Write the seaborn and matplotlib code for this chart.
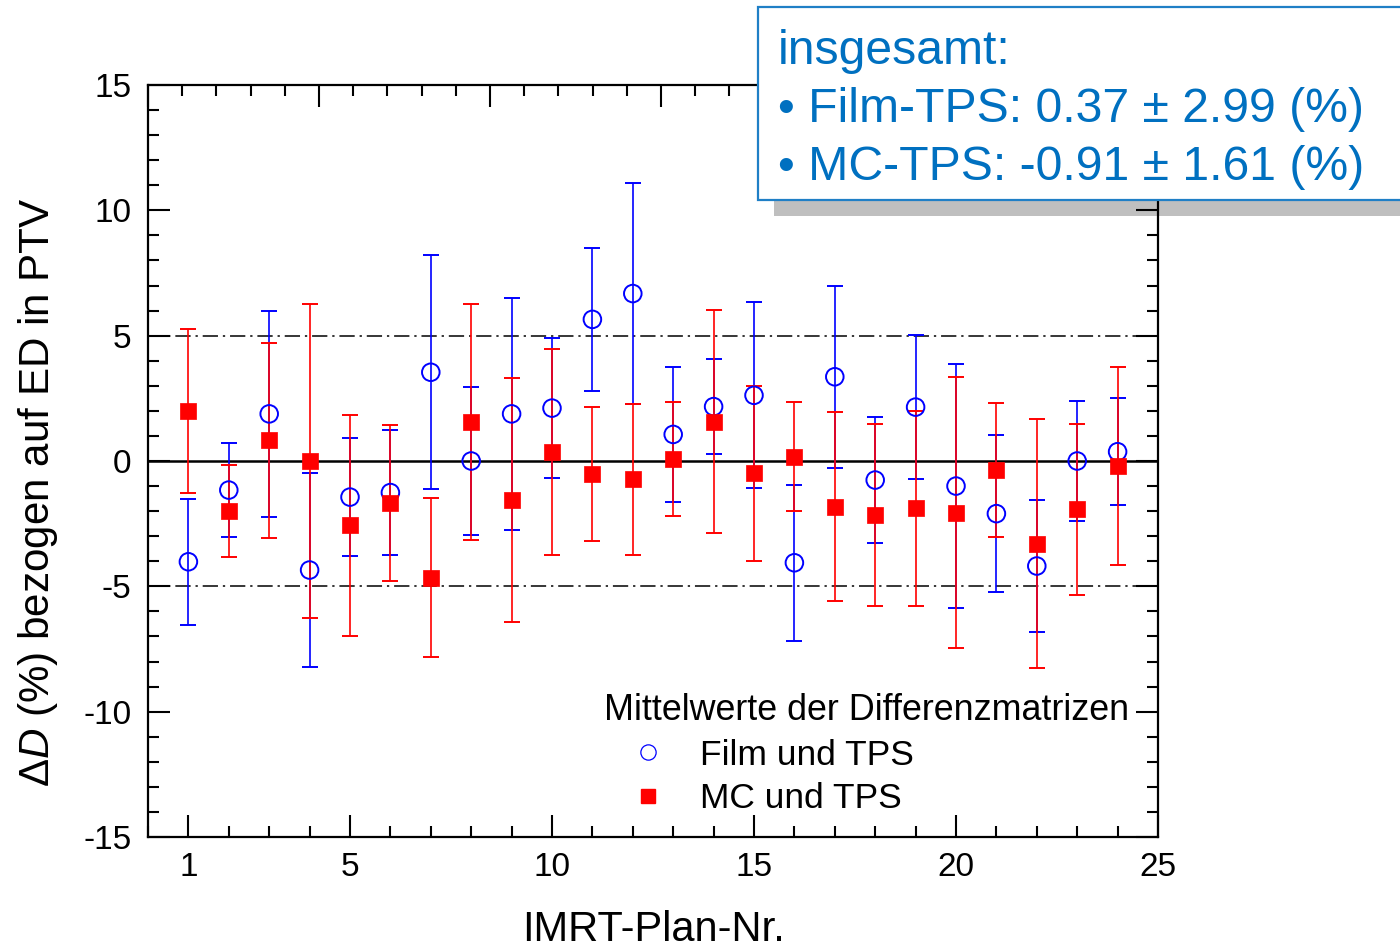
import numpy as np
import pandas as pd
import matplotlib
matplotlib.use("Agg")
import matplotlib.pyplot as plt
import seaborn as sns
from matplotlib.ticker import MultipleLocator, FixedLocator, NullFormatter
from matplotlib.patches import Rectangle
from matplotlib.lines import Line2D

# ---------------- data ----------------
plans = list(range(1, 25))
film_mean = [-4.02, -1.16, 1.88, -4.35, -1.44, -1.26, 3.54, 0.00, 1.88, 2.11, 5.65, 6.68,
             1.06, 2.17, 2.62, -4.06, 3.36, -0.76, 2.15, -1.00, -2.10, -4.19, 0.00, 0.37]
film_err = [2.51, 1.86, 4.10, 3.86, 2.36, 2.50, 4.66, 2.94, 4.63, 2.78, 2.86, 4.41,
            2.70, 1.89, 3.71, 3.12, 3.63, 2.52, 2.88, 4.88, 3.13, 2.65, 2.38, 2.13]
mc_mean = [2.00, -1.99, 0.82, 0.00, -2.57, -1.66, -4.65, 1.56, -1.56, 0.36, -0.51, -0.73,
           0.08, 1.57, -0.49, 0.17, -1.82, -2.15, -1.89, -2.06, -0.35, -3.30, -1.93, -0.20]
mc_err = [3.27, 1.84, 3.89, 6.27, 4.40, 3.11, 3.16, 4.72, 4.87, 4.10, 2.67, 3.01,
          2.29, 4.45, 3.49, 2.17, 3.77, 3.63, 3.88, 5.40, 2.68, 4.96, 3.42, 3.96]

x_major_ticks = [1, 5, 10, 15, 20, 25]
y_major_ticks = [-15, -10, -5, 0, 5, 10, 15]
tolerance = 5

legend_title = "Mittelwerte der Differenzmatrizen"
film_label = "Film und TPS"
mc_label = "MC und TPS"
xlabel = "IMRT-Plan-Nr."
ylabel = "Δ$\\it{D}$ (%) bezogen auf ED in PTV"
box_lines = ["insgesamt:", "• Film-TPS: 0.37 ± 2.99 (%)", "• MC-TPS: -0.91 ± 1.61 (%)"]

# ---------------- style ----------------
sns.set_style("white")
plt.rcParams["font.family"] = ["Liberation Sans", "DejaVu Sans"]
plt.rcParams["mathtext.fontset"] = "custom"
plt.rcParams["mathtext.rm"] = "Liberation Sans"
plt.rcParams["mathtext.it"] = "Liberation Sans:italic"
plt.rcParams["axes.unicode_minus"] = False
for key in ("text.color", "axes.labelcolor", "xtick.color", "ytick.color",
            "xtick.labelcolor", "ytick.labelcolor"):
    plt.rcParams[key] = "black"

BLUE = "#0000ff"
RED = "#ff0000"
TXTBLUE = "#0070c0"

W, H = 1400, 952
fig = plt.figure(figsize=(W / 100, H / 100), dpi=100)
fig.patch.set_facecolor("white")

def fx(px):
    return px / W

def fy(py):
    return 1 - py / H

ax = fig.add_axes([fx(148), fy(837), fx(1158) - fx(148), fy(85) - fy(837)])
ax.patch.set_visible(False)

df_film = pd.DataFrame({"plan": plans, "value": film_mean})
df_mc = pd.DataFrame({"plan": plans, "value": mc_mean})

# reference lines
ax.axhline(0, color="black", lw=1.8, zorder=1)
for v in (tolerance, -tolerance):
    ax.axhline(v, color="black", lw=1.1, ls=(0, (10, 3.2, 1.5, 3.2)), zorder=1)

# error bars
ax.errorbar(plans, film_mean, yerr=film_err, fmt="none", ecolor=BLUE,
            elinewidth=1.2, capsize=5.6, capthick=1.4, zorder=2)
ax.errorbar(plans, mc_mean, yerr=mc_err, fmt="none", ecolor=RED,
            elinewidth=1.2, capsize=5.6, capthick=1.4, zorder=3)

# markers
sns.scatterplot(data=df_film, x="plan", y="value", ax=ax, marker="o", s=160,
                facecolors="none", edgecolors=BLUE, linewidths=1.4, zorder=4,
                legend=False)
sns.scatterplot(data=df_mc, x="plan", y="value", ax=ax, marker="s", s=125,
                color=RED, edgecolors=RED, linewidths=0.5, zorder=5, legend=False)

ax.set_xlim(0, 25)
ax.set_ylim(-15, 15)
ax.set_xlabel("")
ax.set_ylabel("")

ax.xaxis.set_major_locator(FixedLocator(x_major_ticks))
ax.xaxis.set_minor_locator(MultipleLocator(1))
ax.yaxis.set_major_locator(FixedLocator(y_major_ticks))
ax.yaxis.set_minor_locator(MultipleLocator(1))

ax.tick_params(axis="both", which="both", direction="in", top=False, right=True,
               bottom=True, left=True, color="black", labelcolor="black")
ax.tick_params(axis="both", which="major", length=16, width=1.5, labelsize=24)
ax.tick_params(axis="both", which="minor", length=8, width=1.5)
ax.tick_params(axis="x", which="major", pad=11)
ax.tick_params(axis="y", which="major", pad=12)
for s in ax.spines.values():
    s.set_linewidth(1.6)
    s.set_color("black")
    s.set_visible(True)

# top axis with its own tick scale
axt = ax.twiny()
axt.patch.set_visible(False)
axt.set_xlim(0, 1010 / 34.2)
axt.xaxis.set_major_locator(MultipleLocator(5))
axt.xaxis.set_minor_locator(MultipleLocator(1))
axt.xaxis.set_major_formatter(NullFormatter())
axt.tick_params(axis="x", which="both", direction="in", top=True, bottom=False,
                labeltop=False, color="black")
axt.tick_params(axis="x", which="major", length=16, width=1.5)
axt.tick_params(axis="x", which="minor", length=8, width=1.5)
for s in axt.spines.values():
    s.set_visible(False)

# legend
handles = [
    Line2D([], [], marker="o", ls="none", markersize=11, markerfacecolor="none",
           markeredgecolor=BLUE, markeredgewidth=0.9, label=film_label),
    Line2D([], [], marker="s", ls="none", markersize=9.5, markerfacecolor=RED,
           markeredgecolor=RED, label=mc_label),
]
leg = ax.legend(handles=handles, title=legend_title, loc="upper left",
                bbox_to_anchor=(fx(604), fy(693)), bbox_transform=fig.transFigure,
                frameon=False, fontsize=25.5, title_fontsize=25.8, alignment="left",
                borderpad=0, borderaxespad=0, handlelength=2.5, handletextpad=0.2,
                labelspacing=0.3, labelcolor="black")
leg.get_title().set_color("black")
leg.set_zorder(6)

# axis labels
fig.text(fx(653), fy(941), xlabel, ha="center", va="baseline", fontsize=30,
         color="black")
fig.text(fx(38), fy(492), ylabel, ha="center", va="center", rotation=90,
         fontsize=30.3, color="black")

# summary box with shadow
shadow = Rectangle((fx(774), fy(216)), 0.6, fy(23) - fy(216), transform=fig.transFigure,
                   facecolor="#bfbfbf", edgecolor="none", zorder=-1)
fig.add_artist(shadow)
box = Rectangle((fx(758), fy(200)), 0.6, fy(7) - fy(200), transform=fig.transFigure,
                facecolor="white", edgecolor="#1f7fc6", linewidth=1.6, zorder=10)
fig.add_artist(box)
for txt, py in zip(box_lines, [64, 122, 180]):
    fig.text(fx(778), fy(py), txt, ha="left", va="baseline", fontsize=34.7,
             color=TXTBLUE, zorder=11)

fig.savefig("out.png", dpi=100)
